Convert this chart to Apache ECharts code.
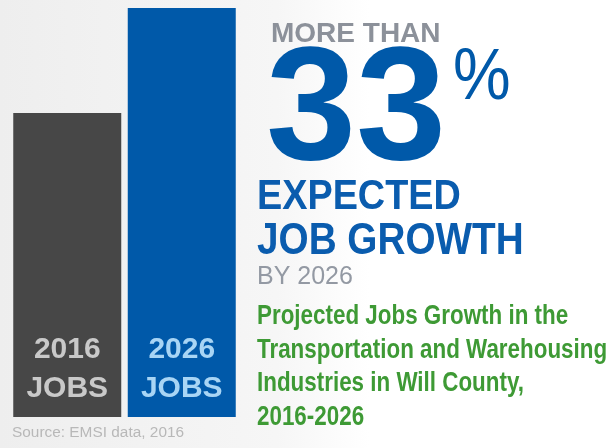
<!DOCTYPE html>
<html>
<head>
<meta charset="utf-8">
<script src="https://cdn.jsdelivr.net/npm/echarts@6/dist/echarts.min.js"></script>
<style>
  html, body { margin: 0; padding: 0; }
  #chart { width: 615px; height: 448px; }
</style>
</head>
<body>
<div id="chart"></div>
<script>
// jobs, indexed to 2016 = 100
const years = ['2016', '2026'];
const jobsIndex = [100, 134.5];
const barLabels = ['2016\nJOBS', '2026\nJOBS'];
const barColors = ['#474747', '#0059a9'];
const labelColors = ['#c9c9c9', '#a8d5f5'];

const headline = 'MORE THAN';
const bigNumber = '33';
const subHead = ['EXPECTED', 'JOB GROWTH'];
const byYear = 'BY 2026';
const caption = [
  'Projected Jobs Growth in the',
  'Transportation and Warehousing',
  'Industries in Will County,',
  '2016-2026'
];
const source = 'Source: EMSI data, 2016';

const FONT = '"Liberation Sans", Arial, sans-serif';

const chart = echarts.init(document.getElementById('chart'));

// text helper: x,y is the top-left of the line box, sx squeezes it to look condensed
const txt = (text, x, y, font, fill, sx, extra) => ({
  type: 'text', x: x, y: y, scaleX: sx || 1,
  style: Object.assign({ text: text, font: font, fill: fill, align: 'left', verticalAlign: 'top' }, extra || {})
});

const option = {
  backgroundColor: {
    type: 'linear', x: 0, y: 0, x2: 1, y2: 0,
    colorStops: [
      { offset: 0, color: '#eeeeee' },
      { offset: 0.45, color: '#f6f6f6' },
      { offset: 0.6, color: '#ffffff' },
      { offset: 1, color: '#ffffff' }
    ]
  },
  animation: false,
  grid: { left: 10, width: 229, top: 8, bottom: 31 },
  xAxis: {
    type: 'category',
    data: years,
    show: false
  },
  yAxis: {
    type: 'value',
    min: 0,
    max: 134.5,
    show: false
  },
  series: [{
    type: 'bar',
    barWidth: 108,
    data: jobsIndex.map((v, i) => ({
      value: v,
      itemStyle: { color: barColors[i] },
      label: {
        show: true,
        position: 'insideBottom',
        distance: 9,
        formatter: barLabels[i],
        color: labelColors[i],
        fontFamily: FONT,
        fontWeight: 'bold',
        fontSize: 30,
        lineHeight: 39
      }
    }))
  }],
  graphic: [
    txt(source, 12, 426, '14px ' + FONT, '#b8b8b8', 1.1),
    txt(headline, 271, 20.5, 'bold 28px ' + FONT, '#8c919a', 1),
    txt(bigNumber, 266, 33.5, 'bold 162px ' + FONT, '#0059a9', 1),
    txt('%', 453, 43.5, '72px ' + FONT, '#0059a9', 0.9),
    txt(subHead[0], 257, 176, 'bold 42px ' + FONT, '#0a5cae', 0.9),
    txt(subHead[1], 257, 218.8, 'bold 45px ' + FONT, '#0a5cae', 0.86),
    txt(byYear, 257, 264.6, '25px ' + FONT, '#9399a3', 1),
    txt(caption.join('\n'), 257, 299.6, 'bold 28px ' + FONT, '#3e9a35', 0.8, { lineHeight: 33.5 })
  ]
};

chart.setOption(option);
</script>
</body>
</html>
